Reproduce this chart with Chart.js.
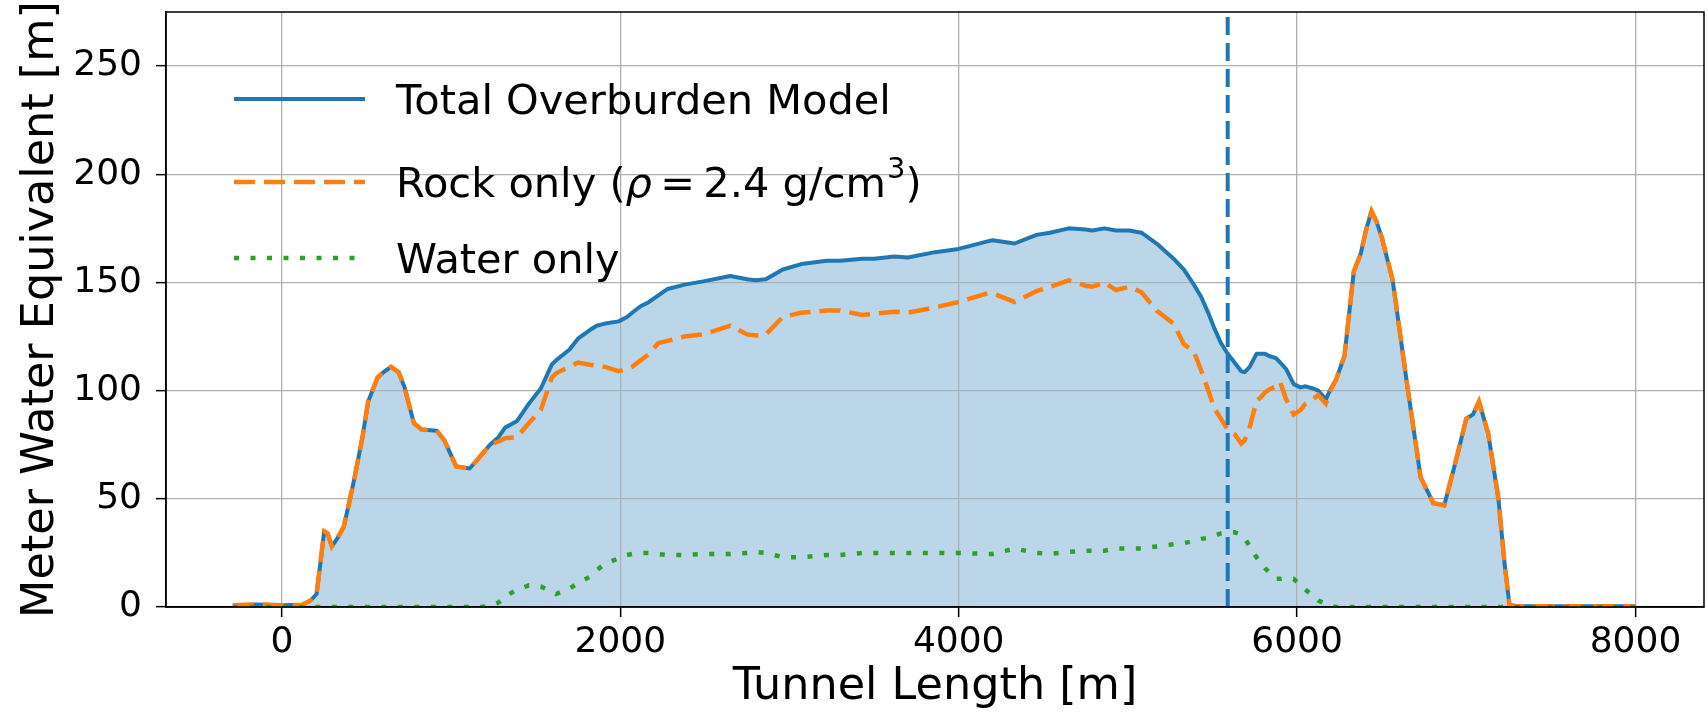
<!DOCTYPE html>
<html>
<head>
<meta charset="utf-8">
<script src="https://cdn.jsdelivr.net/npm/chart.js@4/dist/chart.umd.min.js"></script>
<style>
html,body{margin:0;padding:0;background:#ffffff;}
#wrap{width:1708px;height:715px;position:relative;}
</style>
</head>
<body>
<div id="wrap"><canvas id="c" width="1708" height="715"></canvas></div>
<script>
// ---- data ----
const tunnelLength = [-290,-150,0,120,170,205,230,250,270,295,330,365,400,430,475,510,565,600,645,690,725,780,825,915,960,1030,1110,1165,1230,1280,1320,1390,1460,1530,1595,1620,1700,1750,1820,1860,1910,1990,2040,2070,2120,2170,2225,2280,2380,2490,2650,2750,2800,2860,2960,3070,3220,3300,3430,3500,3620,3700,3860,4000,4170,4200,4330,4460,4540,4650,4750,4790,4860,4930,5010,5080,5170,5270,5330,5390,5435,5480,5510,5550,5590,5630,5670,5690,5720,5760,5810,5835,5875,5900,5935,5980,6020,6050,6095,6125,6170,6200,6230,6280,6335,6375,6410,6440,6470,6500,6565,6650,6730,6805,6870,6940,7000,7040,7075,7130,7190,7225,7255,7300,7600,8000];
const totalOverburden = [0.8,1.2,0.8,1,3,6,22,35,34,28,32,37,49,60,78,95,106,108.5,111,108.5,101.5,85,82,81.5,77,65,64,69,75,78.5,83,86,94,101,112,114,119,124,128,130,131,132,134,136,139,141,144,147,149,150.5,153,151.5,151,151.5,156,158.5,160,160,161,161,162,161.5,164,165.5,169,169.5,168,172,173,175,174.5,174,175,174,174,173,168,161,156,149,143,135,129,122,117,113,109,108.5,111,117,117,116,115,113,110,103,101.5,102,101,100,96,101,105,116,155,163,175,183,178,171,151,103,60,48,47,68,87,89,95,80,50,21,1,0.3,0.3,0.3];
const rockOnly = [0.8,1.2,0.8,1,3,6,22,35,34,28,32,37,49,60,78,95,106,108.5,111,108.5,101.5,85,82,81.5,77,65,64,69,75,76.5,78,78.5,85,91,106,108,111,113,112,111.5,111,109,110,111,114,117,122,123,125,126,130,126,125.5,126,134,136,137,137,135,135.5,136.5,136,138.5,141,145,145,141,146,148,151,148.5,148,150,146.5,148,145.5,137,131,121.5,118,109,99,92,87,82,80,75.5,77,83,95,99,100.5,102,104,96,89,91,94,96,98,94,100.5,105,116,155,163,175,183,178,171,151,103,60,48,47,68,87,89,95,80,50,21,1,0.3,0.3,0.3];
const waterOnly = [0,0,0,0,0,0,0,0,0,0,0,0,0,0,0,0,0,0,0,0,0,0,0,0,0,0,0,0,0.5,2,5,8,10,9.5,7,6,8.5,11,14,17,20,22.5,24,24.5,25,25,24.5,24,24,24.5,24.5,25,25.5,25,23,23,24,24,25,25,25,25,25,25,24.5,24.5,27,25,24.5,25.5,26,26,26,27,27,27,28,29,29.5,30.5,31.5,32,33,34,34.5,34.5,33.5,32,28,23,18,16,13,13,13.5,13,10,8,5,3,1.5,0.5,0,0,0,0,0,0,0,0,0,0,0,0,0,0,0,0,0,0,0,0,0,0,0,0];
const markerPosition = 5590;
const seriesLabels = ['Total Overburden Model', 'Rock only (\u03C1 = 2.4 g/cm\u00B3)', 'Water only'];
const xTicks = [0, 2000, 4000, 6000, 8000];
const yTicks = [0, 50, 100, 150, 200, 250];
const xRange = [-685, 8405];
const yRange = [0, 275];
const xTitle = 'Tunnel Length [m]';
const yTitle = 'Meter Water Equivalent [m]';

// ---- chart ----
const FAMILY = 'DejaVu Sans';
Chart.defaults.font.family = FAMILY;
Chart.defaults.color = '#000';

const toPoints = (ys) => tunnelLength.map((x, i) => ({x: x, y: ys[i]}));

function drawRich(ctx, text, x, y, size) {
  let cx = x;
  let buf = '';
  let inMath = false;
  const flush = () => {
    if (!buf) return;
    ctx.font = size + 'px "' + FAMILY + '"';
    ctx.fillText(buf, cx, y);
    cx += ctx.measureText(buf).width;
    buf = '';
  };
  for (const ch of text) {
    if (ch === '\u03C1') {
      flush();
      ctx.font = 'italic ' + size + 'px "' + FAMILY + '"';
      ctx.fillText(ch, cx, y);
      cx += ctx.measureText(ch).width;
      inMath = true;
    } else if (ch === '\u00B3') {
      flush();
      const s = Math.round(size * 0.7);
      ctx.font = s + 'px "' + FAMILY + '"';
      ctx.fillText('3', cx + 1, y - size * 0.45);
      cx += ctx.measureText('3').width + 1;
    } else if (ch === ' ' && inMath) {
      flush();
      cx += size * 0.2;
    } else {
      if (ch === '4') inMath = false;
      buf += ch;
    }
  }
  flush();
}

const frameAndLegend = {
  id: 'frameAndLegend',
  afterDraw(chart) {
    const {ctx, chartArea: a} = chart;
    ctx.save();
    ctx.strokeStyle = '#000';
    ctx.lineWidth = 1.5;
    ctx.setLineDash([]);
    ctx.strokeRect(a.left, a.top, a.right - a.left, a.bottom - a.top);
    const rows = [99, 182, 258];
    const x0 = 234, x1 = 365, tx = 396;
    ctx.fillStyle = '#000';
    ctx.textAlign = 'left';
    ctx.textBaseline = 'alphabetic';
    chart.data.datasets.slice(0, 3).forEach((ds, i) => {
      const y = rows[i];
      ctx.beginPath();
      ctx.setLineDash(ds.borderDash || []);
      ctx.lineWidth = ds.borderWidth;
      ctx.strokeStyle = ds.borderColor;
      ctx.lineCap = 'butt';
      ctx.moveTo(x0, y);
      ctx.lineTo(x1, y);
      ctx.stroke();
      ctx.setLineDash([]);
      drawRich(ctx, ds.label, tx, y + 15, 41.5);
    });
    ctx.restore();
  }
};

new Chart(document.getElementById('c'), {
  type: 'line',
  data: {
    datasets: [
      {
        label: seriesLabels[0],
        data: toPoints(totalOverburden),
        borderColor: '#1f77b4',
        backgroundColor: 'rgba(31,119,180,0.3)',
        borderWidth: 4,
        fill: 'origin',
        pointRadius: 0,
        tension: 0,
        borderJoinStyle: 'round',
        order: 3
      },
      {
        label: seriesLabels[1],
        data: toPoints(rockOnly),
        borderColor: '#ff7f0e',
        borderWidth: 4.5,
        borderDash: [21, 9],
        fill: false,
        pointRadius: 0,
        tension: 0,
        order: 2
      },
      {
        label: seriesLabels[2],
        data: toPoints(waterOnly),
        borderColor: '#2ca02c',
        borderWidth: 4.5,
        borderDash: [5, 11.5],
        fill: false,
        pointRadius: 0,
        tension: 0,
        order: 1
      },
      {
        label: 'marker',
        data: [{x: markerPosition, y: yRange[0]}, {x: markerPosition, y: yRange[1]}],
        borderColor: '#1f77b4',
        borderWidth: 4,
        borderDash: [18, 8],
        fill: false,
        pointRadius: 0,
        order: 0
      }
    ]
  },
  options: {
    responsive: false,
    animation: false,
    devicePixelRatio: 1,
    layout: {padding: {left: 0, right: 4, top: 12, bottom: 0}},
    plugins: {
      legend: {display: false},
      tooltip: {enabled: false},
      filler: {drawTime: 'beforeDraw'}
    },
    scales: {
      x: {
        type: 'linear',
        min: xRange[0],
        max: xRange[1],
        afterBuildTicks: (s) => { s.ticks = xTicks.map(v => ({value: v})); },
        afterFit: (s) => { s.height = 108; s.paddingLeft = 0; s.paddingRight = 0; },
        grid: {color: '#b0b0b0', lineWidth: 1.3, tickColor: '#000', tickLength: 10, tickWidth: 1.5},
        border: {color: '#000', width: 1.5},
        ticks: {color: '#000', font: {family: FAMILY, size: 36}, padding: 4, maxRotation: 0, autoSkip: false, callback: (v) => String(v)},
        title: {display: true, text: xTitle, color: '#000', font: {family: FAMILY, size: 44.5}, padding: {top: 0, bottom: 1}}
      },
      y: {
        type: 'linear',
        min: yRange[0],
        max: yRange[1],
        afterBuildTicks: (s) => { s.ticks = yTicks.map(v => ({value: v})); },
        afterFit: (s) => { s.width = 166; s.paddingTop = 0; s.paddingBottom = 0; },
        grid: {color: '#b0b0b0', lineWidth: 1.3, tickColor: '#000', tickLength: 10, tickWidth: 1.5},
        border: {color: '#000', width: 1.5},
        ticks: {color: '#000', font: {family: FAMILY, size: 36}, padding: 14, autoSkip: false, callback: (v) => String(v)},
        title: {display: true, text: yTitle, color: '#000', font: {family: FAMILY, size: 44.5}, padding: {top: 15, bottom: 0}}
      }
    }
  },
  plugins: [frameAndLegend]
});
</script>
</body>
</html>
